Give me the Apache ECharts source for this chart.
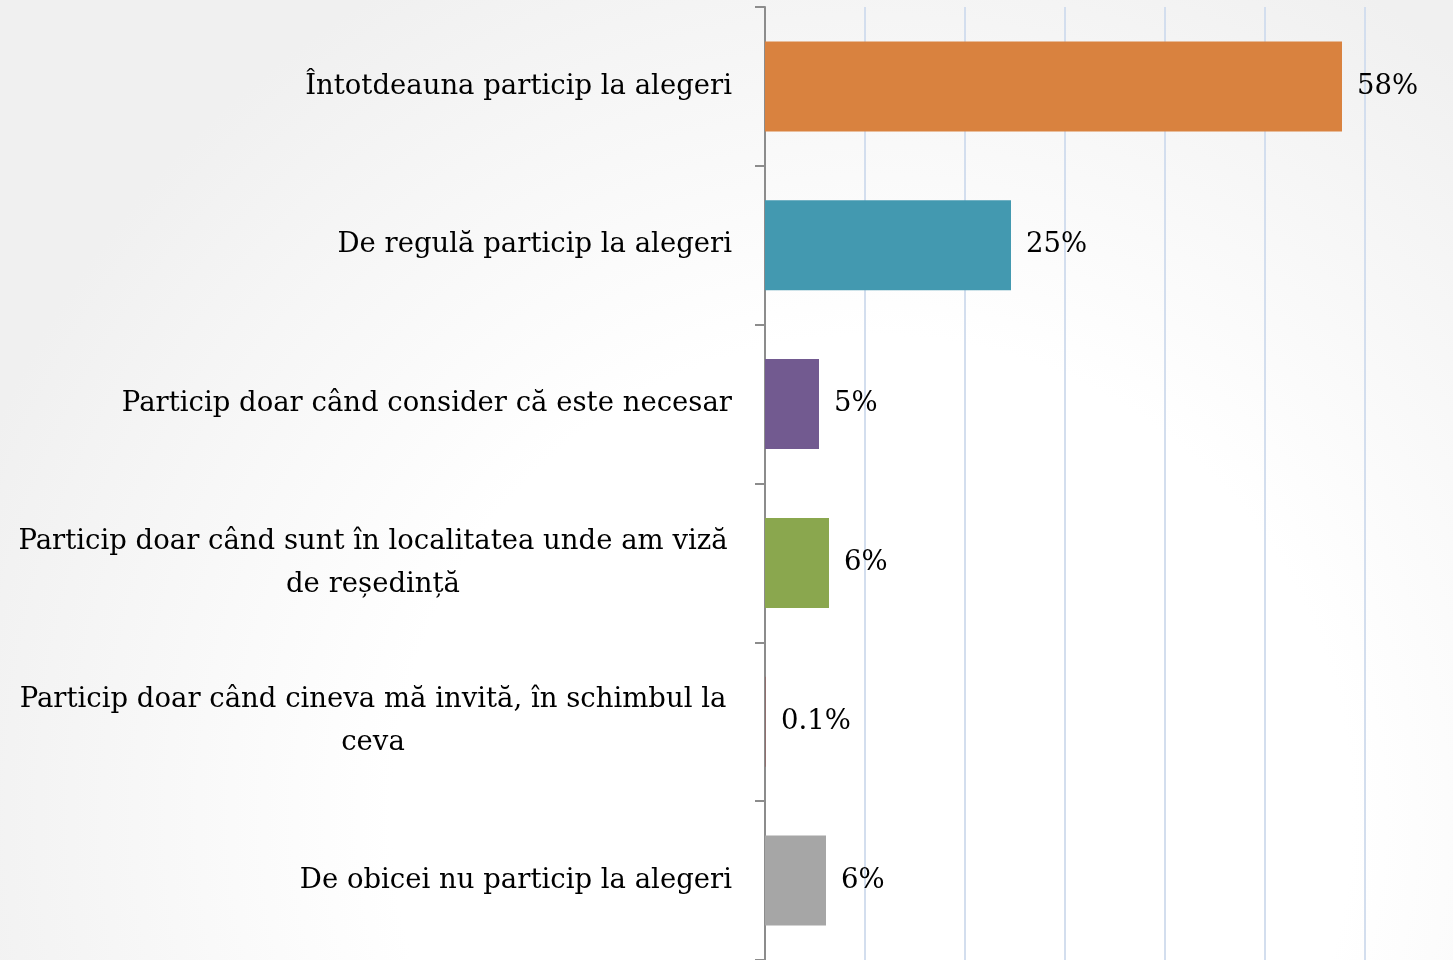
<!DOCTYPE html>
<html>
<head>
<meta charset="utf-8">
<script src="https://cdn.jsdelivr.net/npm/echarts@6/dist/echarts.min.js"></script>
<style>
  html, body { margin: 0; padding: 0; }
  #canvas { width: 1453px; height: 960px; }
</style>
</head>
<body>
<div id="canvas"></div>
<script>
// categories, top to bottom
var categories = [
    'Întotdeauna particip la alegeri',
    'De regulă particip la alegeri',
    'Particip doar când consider că este necesar',
    'Particip doar când sunt în localitatea unde am viză\nde reședință',
    'Particip doar când cineva mă invită, în schimbul la\nceva',
    'De obicei nu particip la alegeri'
];
// procente
var values = [57.7, 24.6, 5.4, 6.4, 0.1, 6.1];
var barColors = ['#D9823F', '#4399B0', '#725A90', '#8AA74E', '#8E6F6F', '#A6A6A6'];
var xTicks = [0, 10, 20, 30, 40, 50, 60];

var serif = '"DejaVu Serif", "Liberation Serif", serif';
var fs = 27.5;

var myChart = echarts.init(document.getElementById('canvas'));
var option = {
    backgroundColor: {
        type: 'radial', x: 0.6, y: 0.85, r: 1.0,
        colorStops: [
            {offset: 0, color: '#ffffff'},
            {offset: 0.5, color: '#ffffff'},
            {offset: 1, color: '#f0f0f0'}
        ]
    },
    animation: false,
    grid: {left: 765, right: 88, top: 7, bottom: -1, containLabel: false},
    xAxis: {
        type: 'value',
        min: xTicks[0],
        max: xTicks[xTicks.length - 1],
        interval: 10,
        axisLabel: {show: false},
        axisLine: {show: false},
        axisTick: {show: false},
        splitLine: {lineStyle: {color: '#D3DEEE', width: 2}}
    },
    yAxis: {
        type: 'category',
        inverse: true,
        data: categories,
        axisLine: {lineStyle: {color: '#8C8C8C', width: 2}},
        axisTick: {show: true, length: 10, lineStyle: {color: '#8C8C8C', width: 2}},
        axisLabel: {
            margin: 33,
            color: '#000',
            fontFamily: serif,
            fontSize: fs,
            lineHeight: 43,
            formatter: function (v) {
                var lines = v.split('\n');
                if (lines.length === 1) return '{r|' + v + '}';
                return lines.map(function (l) { return '{c|' + l + '}'; }).join('\n');
            },
            rich: {
                r: {fontFamily: serif, fontSize: fs, color: '#000', lineHeight: 43},
                c: {fontFamily: serif, fontSize: fs, color: '#000', lineHeight: 43,
                    width: 718, align: 'center'}
            }
        }
    },
    series: [{
        type: 'bar',
        barWidth: 90,
        data: values.map(function (v, i) {
            return {value: v, itemStyle: {color: barColors[i]}};
        }),
        label: {
            show: true,
            position: 'right',
            distance: 15,
            color: '#000',
            fontFamily: serif,
            fontSize: fs,
            padding: [6, 0, 0, 0],
            formatter: function (p) {
                return (p.value < 1 ? p.value : Math.round(p.value)) + '%';
            }
        }
    }]
};
myChart.setOption(option);
</script>
</body>
</html>
